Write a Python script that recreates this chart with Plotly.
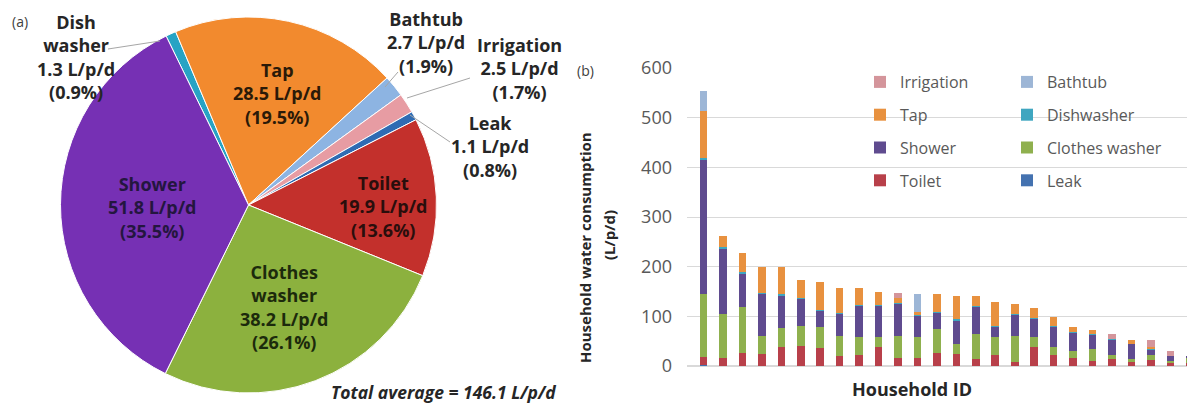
import plotly.graph_objects as go

W, H = 1195, 405
OFF = 8  # the page body adds an 8 px margin around the figure; positions below are screen pixels

# ---------------- Pie data (panel a) ----------------
pie_labels = ["Dish washer", "Tap", "Bathtub", "Irrigation", "Leak", "Toilet", "Clothes washer", "Shower"]
pie_values = [1.3, 28.5, 2.7, 2.5, 1.1, 19.9, 38.2, 51.8]
pie_pct = [0.9, 19.5, 1.9, 1.7, 0.8, 13.6, 26.1, 35.5]
pie_colors = ["#27A3C4", "#F28A2E", "#8DB4E2", "#E79CA3", "#2F6BB3", "#C3302C", "#8CB13E", "#7630B4"]
total_average = 146.1

# ---------------- Stacked bar data (panel b) ----------------
households = list(range(1, 27))
leak = [2, 1, 1, 1, 1, 1, 1, 1, 1, 1, 1, 1, 1, 1, 1, 1, 1, 1, 1, 1, 1, 1, 1, 1, 1, 1]
toilet = [17, 16, 26, 24, 38, 40, 35, 19, 21, 37, 16, 16, 25, 23, 13, 21, 8, 38, 21, 16, 9, 14, 7, 11, 7, 5]
clothes_washer = [125, 88, 91, 36, 37, 39, 42, 40, 37, 21, 44, 42, 48, 20, 50, 37, 52, 20, 17, 13, 24, 7, 7, 10, 2, 12]
shower = [272, 132, 69, 84, 66, 55, 34, 46, 62, 62, 65, 43, 34, 48, 55, 20, 42, 37, 40, 37, 30, 32, 30, 12, 10, 3]
dishwasher = [3, 2, 2, 1, 2, 1, 1, 1, 1, 1, 1, 1, 1, 2, 1, 1, 1, 1, 1, 1, 1, 1, 0, 1, 0, 0]
tap = [95, 23, 39, 54, 56, 38, 56, 51, 36, 28, 9, 6, 35, 46, 20, 49, 20, 20, 19, 11, 7, 0, 7, 4, 0, 0]
bathtub = [40, 0, 0, 0, 0, 0, 0, 0, 0, 0, 0, 36, 0, 0, 0, 0, 0, 0, 0, 0, 0, 0, 0, 0, 0, 0]
irrigation = [0, 0, 0, 0, 0, 0, 0, 0, 0, 0, 10, 0, 0, 0, 0, 0, 0, 0, 0, 0, 0, 10, 0, 13, 10, 0]

# (name, values, colour, legend, rank within legend) -- stacked bottom to top
bar_series = [
    ("Leak", leak, "#4472B0", "legend2", 4),
    ("Toilet", toilet, "#B8404A", "legend", 4),
    ("Clothes washer", clothes_washer, "#8FB04E", "legend2", 3),
    ("Shower", shower, "#5F4B8F", "legend", 3),
    ("Dishwasher", dishwasher, "#3FA6C0", "legend2", 2),
    ("Tap", tap, "#E8913F", "legend", 2),
    ("Bathtub", bathtub, "#9DB6D6", "legend2", 1),
    ("Irrigation", irrigation, "#D4959B", "legend", 1),
]

FONT = "Open Sans"


def px(x):
    return (x - OFF) / W


def py(y):
    return 1 - (y - OFF) / H


fig = go.Figure()

# Pie (panel a)
fig.add_trace(go.Pie(
    labels=pie_labels, values=pie_values,
    marker=dict(colors=pie_colors, line=dict(color="white", width=1)),
    sort=False, direction="clockwise", rotation=-26,
    textinfo="none", showlegend=False, hoverinfo="label+value+percent",
    domain=dict(x=[px(60.5), px(436.5)], y=[py(393), py(17)]),
))

# Stacked bars (panel b)
for name, vals, color, lg, rank in bar_series:
    fig.add_trace(go.Bar(
        x=households, y=vals, name=name, marker=dict(color=color, line=dict(width=0)),
        legend=lg, legendgroup=name, legendrank=rank, xaxis="x", yaxis="y",
    ))

# Pie labels
label_text = {}
for name, v, p in zip(pie_labels, pie_values, pie_pct):
    n = name.replace(" ", "<br>") if name in ("Dish washer", "Clothes washer") else name
    label_text[name] = f"{n}<br>{v} L/p/d<br>({p}%)"

label_pos = {
    "Shower": (152, 207, "#24163F"),
    "Tap": (277, 93, "#2B1A08"),
    "Toilet": (383, 206, "#2A0E0C"),
    "Clothes washer": (284, 307, "#1C2A0C"),
    "Dish washer": (76, 57, "#262626"),
    "Bathtub": (426, 43, "#262626"),
    "Irrigation": (519, 68, "#262626"),
    "Leak": (490, 146, "#262626"),
}
annotations = []
for name, (x, y, c) in label_pos.items():
    annotations.append(dict(
        x=px(x), y=py(y), xref="paper", yref="paper", text=label_text[name],
        showarrow=False, xanchor="center", yanchor="middle",
        font=dict(family=FONT, size=18, color=c, weight="bold"), align="center",
    ))


def note(x, y, text, size, color="#262626", angle=0):
    return dict(x=px(x), y=py(y), xref="paper", yref="paper", text=text, showarrow=False,
                xanchor="center", yanchor="middle", textangle=angle,
                font=dict(family=FONT, size=size, color=color))


annotations += [
    note(443, 392, f"<b><i>Total average = {total_average} L/p/d</i></b>", 17.5),
    note(20, 22, "(a)", 14, "#404040"),
    note(585, 70, "(b)", 14, "#404040"),
    note(585, 248, "<b>Household water consumption</b>", 15, angle=-90),
    note(609, 235, "<b>(L/p/d)</b>", 15, angle=-90),
    note(912, 389, "<b>Household ID</b>", 18),
]

# leader lines for the small slices
leaders = [((108, 49), (160, 41)), ((385, 87), (398, 72)), ((407, 98), (470, 78)), ((410, 115), (450, 142))]
shapes = [dict(type="line", xref="paper", yref="paper", x0=px(a[0]), y0=py(a[1]), x1=px(b[0]), y1=py(b[1]),
               line=dict(color="#A6A6A6", width=1)) for a, b in leaders]

fig.update_layout(
    width=W, height=H, margin=dict(l=0, r=0, t=0, b=0, autoexpand=False),
    paper_bgcolor="white", plot_bgcolor="white",
    barmode="stack", bargap=0.61,
    font=dict(family=FONT, color="#595959"),
    xaxis=dict(domain=[px(687), 1.0], range=[0.152, 26.68], showticklabels=False, showgrid=False,
               zeroline=False, showline=False, ticks="", automargin=False),
    yaxis=dict(domain=[py(366), py(68)], range=[0, 600], dtick=100, showgrid=True, gridcolor="#D9D9D9",
               zeroline=True, zerolinecolor="#D9D9D9", showline=False, ticks="", automargin=False,
               tickfont=dict(family=FONT, size=18, color="#595959"), ticklabelstandoff=14),
    legend=dict(x=px(860), y=py(65), xanchor="left", yanchor="top", traceorder="grouped",
                tracegroupgap=9, font=dict(family=FONT, size=16, color="#595959"),
                bgcolor="rgba(0,0,0,0)"),
    legend2=dict(x=px(1007), y=py(65), xanchor="left", yanchor="top", traceorder="grouped",
                 tracegroupgap=9, font=dict(family=FONT, size=16, color="#595959"),
                 bgcolor="rgba(0,0,0,0)"),
    annotations=annotations, shapes=shapes,
)

fig.write_html("out.html")
